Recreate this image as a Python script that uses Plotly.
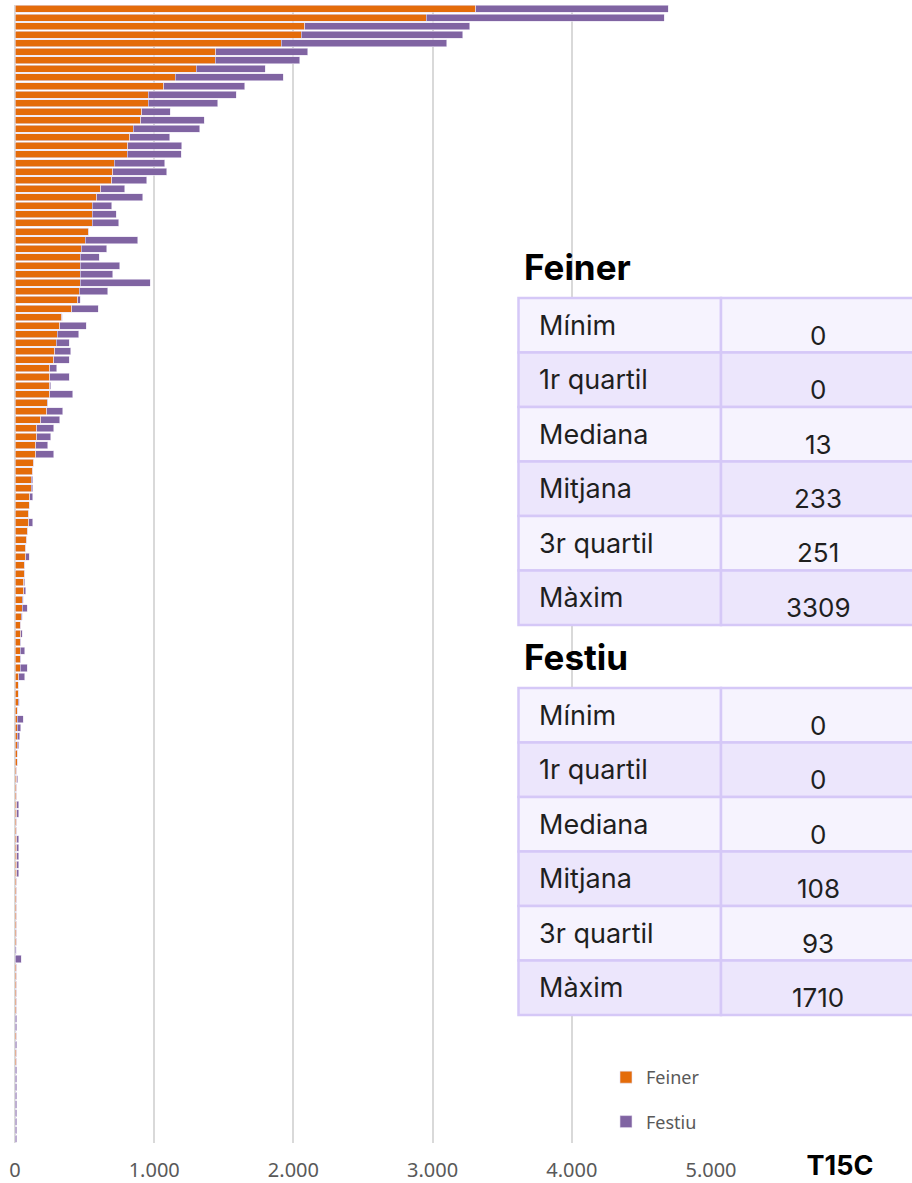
import plotly.graph_objects as go

# Figure size in pixels; layout helpers convert pixel positions to paper coordinates
W, H = 912, 1183


def px(x):
    return x / W


def py(y):
    return 1 - y / H


# Stacked values per item (sorted by working-day volume, largest first)
feiner = [
    3309, 2953, 2083, 2058, 1913, 1441, 1440, 1303, 1152, 1069,
    957, 956, 909, 902, 851, 825, 809, 808, 714, 702,
    695, 616, 589, 556, 556, 555, 530, 504, 477, 470,
    470, 470, 469, 461, 451, 406, 337, 320, 303, 298,
    286, 277, 251, 251, 251, 251, 232, 227, 184, 158,
    158, 148, 148, 136, 126, 115, 115, 105, 103, 98,
    98, 93, 84, 76, 76, 69, 69, 62, 62, 53,
    53, 45, 43, 43, 36, 36, 36, 36, 26, 24,
    24, 24, 17, 17, 17, 17, 17, 15, 15, 14,
    14, 14, 14, 14, 14, 14, 14, 14, 14, 14,
    14, 14, 14, 14, 14, 14, 14, 14, 14, 14,
    0, 0, 14, 14, 14, 14, 14, 14, 0, 0,
    14, 0, 14, 14, 0, 0, 0, 0, 0, 0,
    0, 0, 0,
]
festiu = [
    1383, 1710, 1185, 1159, 1188, 662, 607, 495, 774, 581,
    632, 500, 208, 459, 475, 286, 388, 388, 362, 389,
    250, 172, 330, 139, 172, 189, 0, 379, 182, 136,
    282, 232, 501, 205, 17, 191, 2, 191, 155, 91,
    113, 112, 50, 138, 7, 164, 4, 117, 136, 119,
    100, 86, 129, 0, 0, 14, 14, 24, 0, 0,
    31, 0, 0, 0, 27, 0, 0, 7, 14, 7,
    35, 8, 0, 10, 7, 33, 7, 52, 43, 0,
    0, 5, 0, 43, 26, 16, 9, 0, 0, 0,
    7, 0, 0, 14, 14, 0, 0, 14, 14, 14,
    14, 14, 0, 0, 0, 0, 0, 0, 0, 0,
    10, 46, 0, 0, 0, 0, 0, 0, 14, 14,
    0, 14, 0, 0, 14, 14, 14, 14, 14, 14,
    14, 14, 14,
]
items = list(range(1, len(feiner) + 1))

x_ticks = [0, 1000, 2000, 3000, 4000, 5000]
x_tick_text = ["0", "1.000", "2.000", "3.000", "4.000", "5.000"]

# Summary statistics shown in the side tables
stat_labels = ["Mínim", "1r quartil", "Mediana", "Mitjana", "3r quartil", "Màxim"]
feiner_stats = ["0", "0", "13", "233", "251", "3309"]
festiu_stats = ["0", "0", "0", "108", "93", "1710"]

ORANGE = "#E46C0A"
PURPLE = "#8064A2"
EDGE = "#E6DFF0"
GRID = "#D9D9D9"
TICK_GREY = "#595959"
SANS = "Inter, Noto Sans, Liberation Sans, sans-serif"

fig = go.Figure()
fig.add_bar(
    y=items, x=feiner, orientation="h", name="Feiner", legendgroup="feiner",
    marker=dict(color=ORANGE, line=dict(color=EDGE, width=0.6)),
)
fig.add_bar(
    y=items, x=festiu, orientation="h", name="Festiu", legendgroup="festiu",
    marker=dict(color=PURPLE, line=dict(color=EDGE, width=0.6)),
)

fig.update_layout(
    width=W, height=H,
    margin=dict(l=0, r=0, t=0, b=0, autoexpand=False),
    autosize=False,
    barmode="stack",
    bargap=0.18,
    paper_bgcolor="white",
    plot_bgcolor="white",
    font=dict(family=SANS),
    xaxis=dict(
        domain=[px(15), px(711)],
        range=[0, 5000],
        tickvals=x_ticks,
        ticktext=x_tick_text,
        showgrid=True, gridcolor=GRID, gridwidth=2,
        zeroline=True, zerolinecolor=GRID, zerolinewidth=2,
        showline=False,
        layer="below traces",
        automargin=False,
        ticks="outside", ticklen=9, tickcolor="rgba(0,0,0,0)",
        tickfont=dict(size=20, color=TICK_GREY, family="Noto Sans, Liberation Sans, sans-serif"),
        fixedrange=True,
    ),
    yaxis=dict(
        domain=[py(1143), py(4.7)],
        range=[len(items) + 0.5, 0.5],
        showticklabels=False, showgrid=False, zeroline=False, showline=False,
        automargin=False,
        ticks="",
        fixedrange=True,
    ),
    legend=dict(
        x=px(606), y=py(1059), xanchor="left", yanchor="top",
        traceorder="grouped", tracegroupgap=18,
        font=dict(size=18, color=TICK_GREY, family="Noto Sans, Liberation Sans, sans-serif"),
        bgcolor="rgba(0,0,0,0)",
        itemwidth=30,
    ),
    title=dict(
        text="<b>T15C</b>", x=px(840), y=py(1166),
        xanchor="center", yanchor="middle",
        font=dict(size=27, color="black", family=SANS),
    ),
    showlegend=True,
)

# Side tables with the summary statistics
CELL_LINE = "#D5C8F7"
FILL_LIGHT = "#F6F3FE"
FILL_DARK = "#ECE6FC"
ROW_H = 54.5
LEFT, MID, RIGHT = 518.5, 721, 916

shapes = []
annotations = []


def add_table(title, top, values):
    annotations.append(dict(
        text=f"<b>{title}</b>", x=px(522), y=py(top - 31),
        xref="paper", yref="paper", xanchor="left", yanchor="middle",
        showarrow=False,
        font=dict(size=35, color="black", family=SANS),
    ))
    for i, (label, value) in enumerate(zip(stat_labels, values)):
        y0 = top + i * ROW_H
        y1 = y0 + ROW_H
        fill = FILL_LIGHT if i % 2 == 0 else FILL_DARK
        for x0, x1 in ((LEFT, MID), (MID, RIGHT)):
            shapes.append(dict(
                type="rect", xref="paper", yref="paper",
                x0=px(x0), x1=px(x1), y0=py(y1), y1=py(y0),
                fillcolor=fill, line=dict(color=CELL_LINE, width=2.5),
                layer="above",
            ))
        annotations.append(dict(
            text=label, x=px(537), y=py(y0 + 27),
            xref="paper", yref="paper", xanchor="left", yanchor="middle",
            showarrow=False,
            font=dict(size=27, color="#1F1F1F", family=SANS),
        ))
        annotations.append(dict(
            text=value, x=px(818), y=py(y0 + 37),
            xref="paper", yref="paper", xanchor="center", yanchor="middle",
            showarrow=False,
            font=dict(size=26, color="#1F1F1F", family=SANS),
        ))


add_table("Feiner", 298, feiner_stats)
add_table("Festiu", 688, festiu_stats)

fig.update_layout(shapes=shapes, annotations=annotations)

fig.write_html("out.html")
